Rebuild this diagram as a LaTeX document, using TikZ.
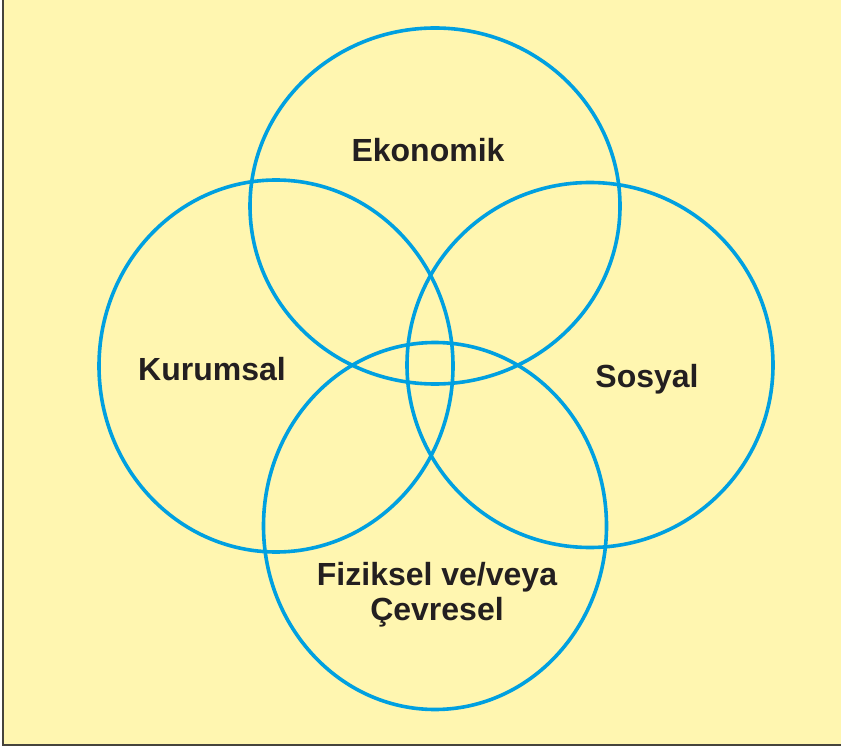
\documentclass[tikz,border=0pt]{standalone}
\usepackage{fontspec}
\setmainfont{Liberation Sans}
\usepackage{xcolor}
\usetikzlibrary{shapes.geometric,positioning}

\definecolor{paperyellow}{RGB}{255,246,176}
\definecolor{ringblue}{RGB}{0,160,224}
\definecolor{labelgray}{RGB}{35,31,32}
\definecolor{edgegray}{RGB}{70,68,60}

\begin{document}
\begin{tikzpicture}[
    x=1pt, y=-1pt,
    ring/.style={
        ellipse, draw=ringblue, line width=3.6pt,
        inner sep=0pt
    },
    lbl/.style={
        font=\fontsize{32}{35}\selectfont\bfseries,
        text=labelgray, align=center
    },
]

\useasboundingbox (0,0) rectangle (841,751);
\fill[white] (0,0) rectangle (841,751);
\fill[paperyellow] (3,0) rectangle (841,745);
\draw[edgegray, line width=1.5pt] (3,0) -- (3,745) -- (841,745);

\node[ring, minimum width=370, minimum height=356] (eko) at (435,206) {};
\node[ring, minimum width=354, minimum height=372] (kur) at (276,366) {};
\node[ring, minimum width=366, minimum height=365] (sos) at (590,365) {};
\node[ring, minimum width=343, minimum height=367] (fiz) at (435,526) {};

\node[lbl] (ekotxt) at (428,150) {Ekonomik};
\node[lbl] (kurtxt) at (212,369) {Kurumsal};
\node[lbl] (sostxt) at (647,379) {Sosyal};
\node[lbl] (fiztxt) at (437,595) {Fiziksel ve/veya\\Çevresel};

\end{tikzpicture}
\end{document}
